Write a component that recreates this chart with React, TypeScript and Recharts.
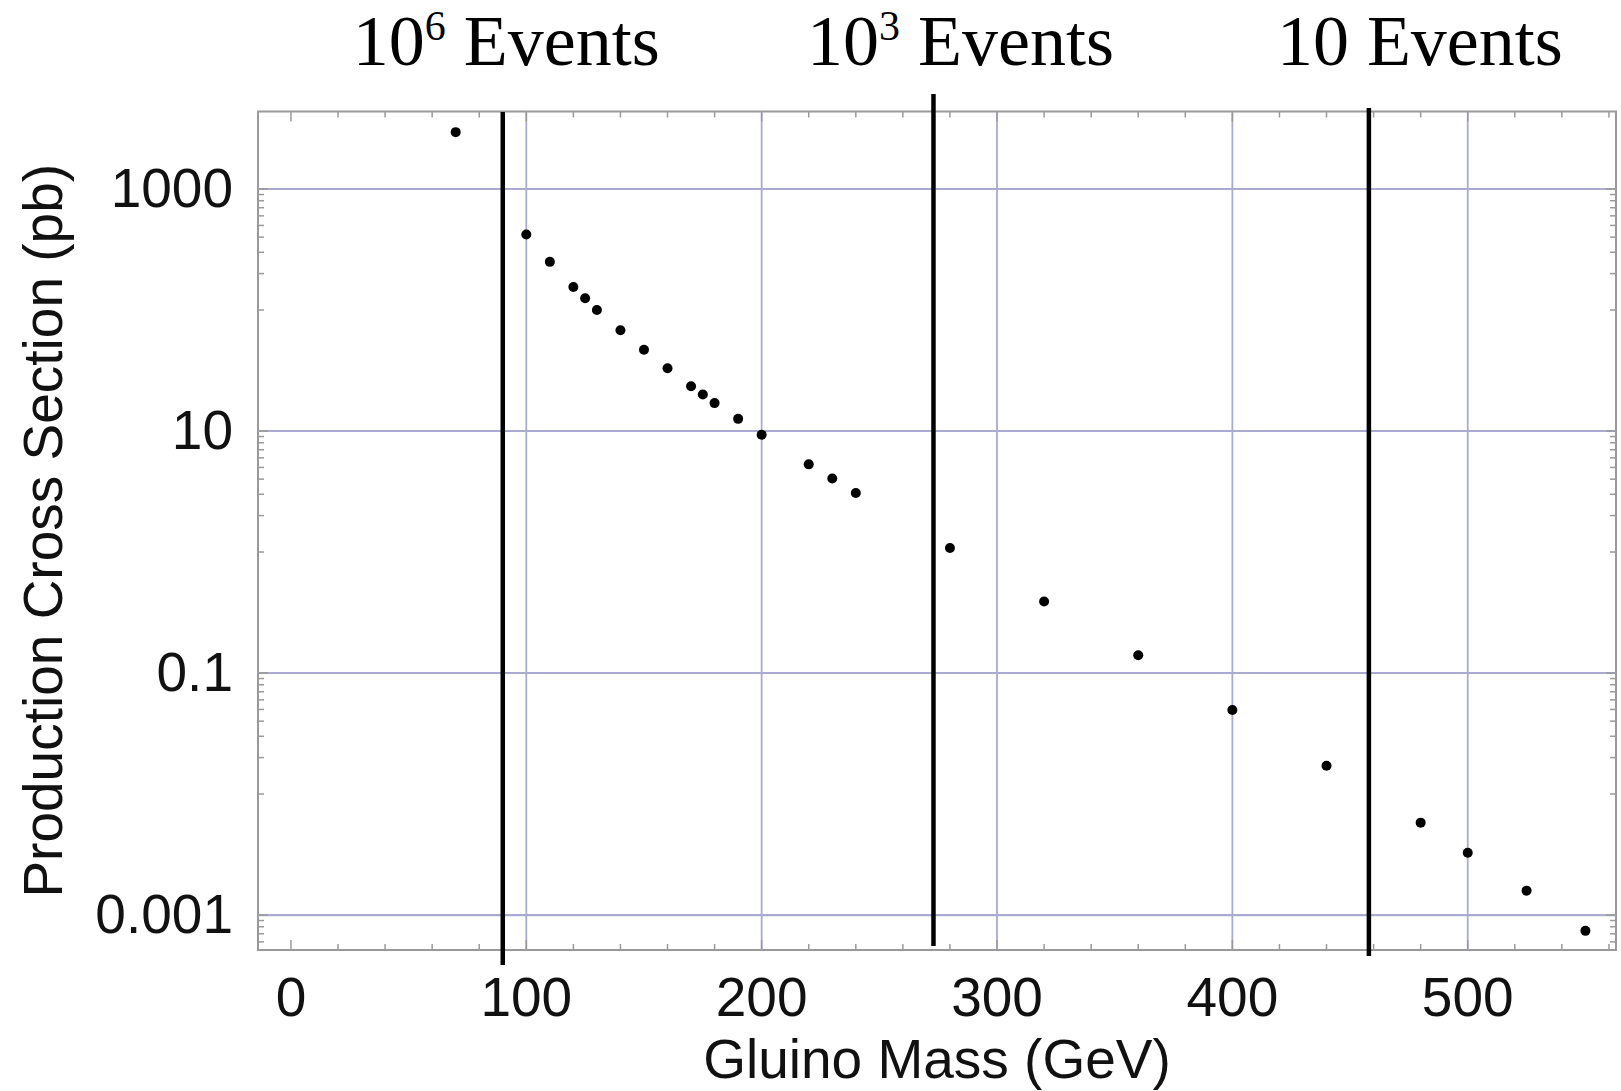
import React from "react";
import {
  ScatterChart,
  Scatter,
  XAxis,
  YAxis,
  ReferenceLine,
  ReferenceArea,
} from "recharts";

// gluino mass (GeV) and production cross section (pb)
const MASS = [70, 100, 110, 120, 125, 130, 140, 150, 160, 170, 175, 180, 190, 200, 220, 230, 240, 280, 320, 360, 400, 440, 480, 500, 525, 550];
const XSEC = [2950, 420, 250, 155, 125, 100, 68, 47, 33, 23.4, 20, 17, 12.6, 9.3, 5.3, 4.05, 3.07, 1.08, 0.39, 0.14, 0.0494, 0.0171, 0.0058, 0.00327, 0.00159, 0.00074];

const X_TICKS = [0, 100, 200, 300, 400, 500];
const Y_TICKS = [0.001, 0.1, 10, 1000];
const X_GRID = [100, 200, 300, 400, 500];
const Y_GRID = [0.001, 0.1, 10, 1000];
const X_DOMAIN = [-14, 563];
const Y_DOMAIN = [0.000514, 4370];

// vertical markers: mass where the expected event count is reached
const EVENT_MASS = [90, 273, 458];
const EVENT_POWER = ["6", "3", ""];

const SANS = '"Liberation Sans", Arial, Helvetica, sans-serif';
const SERIF = '"Liberation Serif", "Times New Roman", serif';
const GRID = "#aaaad2";
const FRAME = "#9a9a9a";

const points = MASS.map((m, i) => ({ mass: m, xsec: XSEC[i] }));

// frame ticks: every 20 GeV on x, log minor ticks in the decade under each labelled line
const X_MINOR: number[] = [];
for (let v = 20; v <= 560; v += 20) if (v % 100 !== 0) X_MINOR.push(v);
const Y_MINOR: number[] = [];
[2, 0, -2, -4].forEach((d) => {
  for (let k = 1; k <= 9; k++) {
    const v = k * Math.pow(10, d);
    if (v >= Y_DOMAIN[0] && !Y_GRID.includes(v)) Y_MINOR.push(v);
  }
});

// eslint-disable-next-line @typescript-eslint/no-explicit-any
const vTicks = (len: number) => (p: any) => {
  const top = Math.min(p.y1, p.y2);
  const bot = Math.max(p.y1, p.y2);
  return (
    <g>
      <line x1={p.x1} x2={p.x1} y1={top} y2={top + len} stroke={FRAME} strokeWidth={1.5} />
      <line x1={p.x1} x2={p.x1} y1={bot - len} y2={bot} stroke={FRAME} strokeWidth={1.5} />
    </g>
  );
};

// eslint-disable-next-line @typescript-eslint/no-explicit-any
const hTicks = (len: number) => (p: any) => {
  const left = Math.min(p.x1, p.x2);
  const right = Math.max(p.x1, p.x2);
  return (
    <g>
      <line y1={p.y1} y2={p.y1} x1={left} x2={left + len} stroke={FRAME} strokeWidth={1.5} />
      <line y1={p.y1} y2={p.y1} x1={right - len} x2={right} stroke={FRAME} strokeWidth={1.5} />
    </g>
  );
};

// how far each marker pokes past the frame, and where its caption sits
const EVENT_STYLE = [
  { top: 0.5, bottom: 15, dx: 3.5 },
  { top: -17.5, bottom: -4, dx: 27 },
  { top: -3.5, bottom: 6, dx: 51 },
];

// eslint-disable-next-line @typescript-eslint/no-explicit-any
const eventLine = (i: number) => (p: any) => {
  const top = Math.min(p.y1, p.y2);
  const bot = Math.max(p.y1, p.y2);
  const s = EVENT_STYLE[i];
  const pow = EVENT_POWER[i];
  return (
    <g>
      <line x1={p.x1} x2={p.x1} y1={top + s.top} y2={bot + s.bottom} stroke="#000" strokeWidth={4.5} />
      <text x={p.x1 + s.dx} y={65} textAnchor="middle" fontFamily={SERIF} fontSize={72} fill="#000">
        10
        {pow && (
          <tspan fontSize={42} dy={-25}>
            {pow}
          </tspan>
        )}
        <tspan dy={pow ? 25 : 0}> Events</tspan>
      </text>
    </g>
  );
};

// eslint-disable-next-line @typescript-eslint/no-explicit-any
function XTick({ x, y, payload }: any) {
  return (
    <text x={x} y={y + 66} textAnchor="middle" fontFamily={SANS} fontSize={55} fill="#111">
      {payload.value}
    </text>
  );
}

// eslint-disable-next-line @typescript-eslint/no-explicit-any
function YTick({ x, y, payload }: any) {
  return (
    <text x={x} y={y + 18} textAnchor="end" fontFamily={SANS} fontSize={55} fill="#111">
      {String(payload.value)}
    </text>
  );
}

// eslint-disable-next-line @typescript-eslint/no-explicit-any
function XTitle({ viewBox }: any) {
  return (
    <text x={viewBox.x + viewBox.width / 2} y={viewBox.y + 128} textAnchor="middle" fontFamily={SANS} fontSize={55} fill="#111">
      Gluino Mass (GeV)
    </text>
  );
}

// eslint-disable-next-line @typescript-eslint/no-explicit-any
function YTitle({ viewBox }: any) {
  const cx = viewBox.x + 61.5;
  const cy = viewBox.y + viewBox.height / 2;
  return (
    <text x={cx} y={cy} transform={`rotate(-90, ${cx}, ${cy})`} textAnchor="middle" fontFamily={SANS} fontSize={55} fill="#111">
      Production Cross Section (pb)
    </text>
  );
}

// eslint-disable-next-line @typescript-eslint/no-explicit-any
const Dot = (p: any) => <circle cx={p.cx} cy={p.cy} r={5} fill="#000" />;

export default function App() {
  return (
    <div style={{ position: "absolute", left: 0, top: 0, width: 1621, height: 1091, background: "#fff" }}>
      <ScatterChart width={1621} height={1091} margin={{ top: 111.5, right: 5, bottom: 0, left: 0 }}>
        <XAxis
          type="number"
          dataKey="mass"
          domain={X_DOMAIN}
          allowDataOverflow
          ticks={X_TICKS}
          interval={0}
          tickLine={false}
          axisLine={false}
          tickSize={0}
          tickMargin={0}
          height={141}
          tick={XTick}
          label={{ content: XTitle }}
        />
        <YAxis
          type="number"
          dataKey="xsec"
          scale="log"
          domain={Y_DOMAIN}
          allowDataOverflow
          ticks={Y_TICKS}
          interval={0}
          tickLine={false}
          axisLine={false}
          tickSize={0}
          tickMargin={25}
          width={258}
          tick={YTick}
          label={{ content: YTitle }}
        />

        {X_GRID.map((v) => (
          <ReferenceLine key={`gx${v}`} x={v} stroke={GRID} strokeWidth={1.8} />
        ))}
        {Y_GRID.map((v) => (
          <ReferenceLine key={`gy${v}`} y={v} stroke={GRID} strokeWidth={2.2} />
        ))}

        <ReferenceArea x1={X_DOMAIN[0]} x2={X_DOMAIN[1]} y1={Y_DOMAIN[0]} y2={Y_DOMAIN[1]} fill="none" stroke={FRAME} strokeWidth={2} />

        {X_MINOR.map((v) => (
          <ReferenceLine key={`mx${v}`} x={v} shape={vTicks(6)} />
        ))}
        {X_TICKS.map((v) => (
          <ReferenceLine key={`tx${v}`} x={v} shape={vTicks(10)} />
        ))}
        {Y_MINOR.map((v) => (
          <ReferenceLine key={`my${v}`} y={v} shape={hTicks(6)} />
        ))}
        {Y_TICKS.map((v) => (
          <ReferenceLine key={`ty${v}`} y={v} shape={hTicks(10)} />
        ))}

        {EVENT_MASS.map((v, i) => (
          <ReferenceLine key={`ev${v}`} x={v} shape={eventLine(i)} />
        ))}

        <Scatter data={points} isAnimationActive={false} shape={Dot} />
      </ScatterChart>
    </div>
  );
}
